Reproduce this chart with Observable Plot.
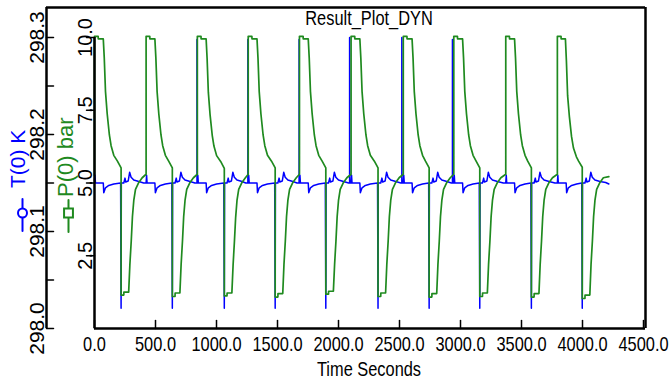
<!DOCTYPE html>
<html><head><meta charset="utf-8">
<script src="https://cdn.jsdelivr.net/npm/d3@7"></script>
<script src="https://cdn.jsdelivr.net/npm/@observablehq/plot@0.6"></script>
<style>body{margin:0;background:#fff} svg{display:block}</style>
</head><body><div id="chart"></div>
<script>
const title = "Result_Plot_DYN";
const xLabel = "Time Seconds";
const pLabel = "P(0) bar";
const tLabel = "T(0) K";
const xTicks = [0, 500, 1000, 1500, 2000, 2500, 3000, 3500, 4000, 4500];
const pTicks = [2.5, 5.0, 7.5, 10.0];
const tTicks = [298.0, 298.05, 298.1, 298.15, 298.2, 298.25, 298.3];
const tLabelTicks = [298.0, 298.1, 298.2, 298.3];

const pressureTime = [
  0, 0, 30, 31, 72, 80, 90, 104, 122, 136, 158, 188, 218, 218, 240, 241, 280, 290, 301, 311, 322, 336, 363, 391, 423,
  423, 453, 454, 495, 503, 513, 527, 545, 559, 581, 608, 638, 638, 660, 661, 700, 710, 721, 731, 742, 756, 783, 811, 843,
  843, 873, 874, 915, 923, 933, 947, 965, 979, 1001, 1034, 1064, 1064, 1086, 1087, 1126, 1136, 1147, 1157, 1168, 1182, 1209, 1237, 1260,
  1260, 1290, 1291, 1332, 1340, 1350, 1364, 1382, 1396, 1418, 1451, 1481, 1481, 1503, 1504, 1543, 1553, 1564, 1574, 1585, 1599, 1626, 1654, 1680,
  1680, 1710, 1711, 1752, 1760, 1770, 1784, 1802, 1816, 1838, 1866, 1896, 1896, 1918, 1919, 1958, 1968, 1979, 1989, 2000, 2014, 2041, 2069, 2103,
  2103, 2133, 2134, 2175, 2183, 2193, 2207, 2225, 2239, 2261, 2294, 2324, 2324, 2346, 2347, 2386, 2396, 2407, 2417, 2428, 2442, 2469, 2497, 2531,
  2531, 2561, 2562, 2603, 2611, 2621, 2635, 2653, 2667, 2689, 2713, 2743, 2743, 2765, 2766, 2805, 2815, 2826, 2836, 2847, 2861, 2888, 2916, 2945,
  2945, 2975, 2976, 3017, 3025, 3035, 3049, 3067, 3081, 3103, 3128, 3158, 3158, 3180, 3181, 3220, 3230, 3241, 3251, 3262, 3276, 3303, 3331, 3371,
  3371, 3401, 3402, 3443, 3451, 3461, 3475, 3493, 3507, 3529, 3551, 3581, 3581, 3603, 3604, 3643, 3653, 3664, 3674, 3685, 3699, 3726, 3754, 3794,
  3794, 3824, 3825, 3860, 3868, 3878, 3892, 3910, 3926, 3950, 3968, 3998, 3998, 4020, 4021, 4060, 4070, 4081, 4091, 4102, 4116, 4143, 4171, 4216
];
const pressureBar = [
  5.26, 10.04, 10.04, 9.95, 9.95, 9.30, 8.15, 7.38, 6.65, 6.28, 5.95, 5.75, 5.52, 1.15, 1.15, 1.25, 1.25, 2.20, 3.00, 3.85, 4.40, 4.78, 5.02, 5.18, 5.30,
  10.04, 10.04, 9.95, 9.95, 9.30, 8.15, 7.38, 6.65, 6.28, 5.95, 5.75, 5.52, 1.10, 1.10, 1.22, 1.22, 2.20, 3.00, 3.85, 4.40, 4.78, 5.02, 5.18, 5.30,
  10.04, 10.04, 9.95, 9.95, 9.28, 8.12, 7.36, 6.64, 6.27, 5.94, 5.74, 5.50, 1.12, 1.12, 1.22, 1.22, 2.18, 3.00, 3.82, 4.40, 4.78, 5.02, 5.18, 5.30,
  10.04, 10.04, 9.95, 9.95, 9.30, 8.15, 7.38, 6.65, 6.28, 5.95, 5.75, 5.52, 1.08, 1.08, 1.20, 1.20, 2.20, 3.00, 3.85, 4.40, 4.78, 5.02, 5.18, 5.30,
  10.04, 10.04, 9.95, 9.95, 9.30, 8.15, 7.38, 6.65, 6.28, 5.95, 5.75, 5.52, 1.18, 1.18, 1.28, 1.28, 2.20, 3.00, 3.85, 4.40, 4.78, 5.02, 5.18, 5.30,
  10.04, 10.04, 9.95, 9.95, 9.30, 8.15, 7.38, 6.65, 6.28, 5.95, 5.75, 5.52, 1.10, 1.10, 1.22, 1.22, 2.20, 3.00, 3.85, 4.40, 4.78, 5.02, 5.18, 5.30,
  10.04, 10.04, 9.95, 9.95, 9.30, 8.15, 7.38, 6.65, 6.28, 5.95, 5.75, 5.52, 1.08, 1.08, 1.20, 1.20, 2.20, 3.00, 3.85, 4.40, 4.78, 5.02, 5.18, 5.30,
  10.04, 10.04, 9.95, 9.95, 9.30, 8.15, 7.38, 6.65, 6.28, 5.95, 5.75, 5.52, 1.10, 1.10, 1.22, 1.22, 2.20, 3.00, 3.85, 4.40, 4.78, 5.02, 5.18, 5.30,
  10.04, 10.04, 9.95, 9.95, 9.30, 8.15, 7.38, 6.65, 6.28, 5.95, 5.75, 5.52, 1.08, 1.08, 1.20, 1.20, 2.20, 3.00, 3.85, 4.40, 4.78, 5.02, 5.18, 5.30,
  10.04, 10.04, 9.95, 9.95, 9.20, 8.00, 7.30, 6.60, 6.20, 5.90, 5.75, 5.54, 1.03, 1.03, 1.15, 1.15, 2.20, 3.00, 3.85, 4.40, 4.78, 5.02, 5.18, 5.22
];

const temperatureTime = [
  0, 4, 8, 72, 76, 90, 117, 158, 214, 218, 220, 240, 250, 256, 276, 288, 300, 322, 363, 403,
  423, 427, 431, 495, 499, 513, 540, 581, 634, 638, 640, 660, 670, 676, 696, 708, 720, 742, 783, 823,
  840, 840, 841, 843, 847, 851, 915, 919, 933, 960, 1001, 1060, 1064, 1066, 1086, 1096, 1102, 1122, 1134, 1146, 1168, 1209, 1240,
  1257, 1257, 1258, 1260, 1264, 1268, 1332, 1336, 1350, 1377, 1418, 1477, 1481, 1483, 1503, 1513, 1519, 1539, 1551, 1563, 1585, 1626, 1660,
  1677, 1677, 1678, 1680, 1684, 1688, 1752, 1756, 1770, 1797, 1838, 1892, 1896, 1898, 1918, 1928, 1934, 1954, 1966, 1978, 2000, 2041, 2083,
  2091, 2091, 2092, 2103, 2107, 2111, 2175, 2179, 2193, 2220, 2261, 2320, 2324, 2326, 2346, 2356, 2362, 2382, 2394, 2406, 2428, 2469, 2511,
  2519, 2519, 2520, 2531, 2535, 2539, 2603, 2607, 2621, 2648, 2689, 2739, 2743, 2745, 2765, 2775, 2781, 2801, 2813, 2825, 2847, 2888, 2925,
  2934, 2934, 2935, 2945, 2949, 2953, 3017, 3021, 3035, 3062, 3103, 3154, 3158, 3160, 3180, 3190, 3196, 3216, 3228, 3240, 3262, 3303, 3351,
  3371, 3375, 3379, 3443, 3447, 3461, 3488, 3529, 3577, 3581, 3583, 3603, 3613, 3619, 3639, 3651, 3663, 3685, 3726, 3774,
  3794, 3798, 3802, 3866, 3870, 3884, 3911, 3952, 3994, 3998, 4000, 4020, 4030, 4036, 4056, 4068, 4080, 4102, 4143, 4190, 4216
];
const temperatureK = [
  298.1526, 298.158, 298.150, 298.150, 298.140, 298.145, 298.1475, 298.149, 298.150, 298.021, 298.150, 298.150, 298.155, 298.151, 298.152, 298.161, 298.156, 298.153, 298.1515, 298.150,
  298.150, 298.158, 298.150, 298.150, 298.140, 298.145, 298.1475, 298.149, 298.150, 298.021, 298.150, 298.150, 298.155, 298.151, 298.152, 298.161, 298.156, 298.153, 298.1515, 298.150,
  298.150, 298.298, 298.150, 298.150, 298.158, 298.150, 298.150, 298.140, 298.145, 298.1475, 298.149, 298.150, 298.021, 298.150, 298.150, 298.155, 298.151, 298.152, 298.161, 298.156, 298.153, 298.1515, 298.150,
  298.150, 298.298, 298.150, 298.150, 298.158, 298.150, 298.150, 298.140, 298.145, 298.1475, 298.149, 298.150, 298.021, 298.150, 298.150, 298.155, 298.151, 298.152, 298.161, 298.156, 298.153, 298.1515, 298.150,
  298.150, 298.298, 298.150, 298.150, 298.158, 298.150, 298.150, 298.140, 298.145, 298.1475, 298.149, 298.150, 298.021, 298.150, 298.150, 298.155, 298.151, 298.152, 298.161, 298.156, 298.153, 298.1515, 298.150,
  298.150, 298.300, 298.150, 298.150, 298.158, 298.150, 298.150, 298.140, 298.145, 298.1475, 298.149, 298.150, 298.021, 298.150, 298.150, 298.155, 298.151, 298.152, 298.161, 298.156, 298.153, 298.1515, 298.150,
  298.150, 298.300, 298.150, 298.150, 298.158, 298.150, 298.150, 298.140, 298.145, 298.1475, 298.149, 298.150, 298.021, 298.150, 298.150, 298.155, 298.151, 298.152, 298.161, 298.156, 298.153, 298.1515, 298.150,
  298.150, 298.298, 298.150, 298.150, 298.158, 298.150, 298.150, 298.140, 298.145, 298.1475, 298.149, 298.150, 298.021, 298.150, 298.150, 298.155, 298.151, 298.152, 298.161, 298.156, 298.153, 298.1515, 298.150,
  298.150, 298.158, 298.150, 298.150, 298.140, 298.145, 298.1475, 298.149, 298.150, 298.021, 298.150, 298.150, 298.155, 298.151, 298.152, 298.161, 298.156, 298.153, 298.1515, 298.150,
  298.150, 298.158, 298.150, 298.150, 298.140, 298.145, 298.1475, 298.149, 298.150, 298.021, 298.150, 298.150, 298.155, 298.151, 298.152, 298.161, 298.156, 298.153, 298.1515, 298.1505, 298.149
];

// Both y axes share one vertical scale: P (bar) = (T - 298.0) / 0.03
const T_BASE = 298.0, K_PER_BAR = 0.03;
const toP = k => (k - T_BASE) / K_PER_BAR;
const yDomain = [0, 11.03];
const xDomain = [0, 4500];

const FONT = '"Liberation Sans",Arial,sans-serif';
const GREEN = "#1f8a1f", BLUE = "#0000ff";
const T_AXIS_DX = -48;
// plain straight line for tick marks and legend keys (no arrow head)
const stroke = {draw(context, l) { context.moveTo(0, 0); context.lineTo(0, -l); }};

const pData = pressureTime.map((t, i) => ({t, v: pressureBar[i]}));
const tData = temperatureTime.map((t, i) => ({t, v: toP(temperatureK[i])}));
const fmt1 = d3.format(".1f");

const chart = Plot.plot({
  width: 670, height: 381,
  marginLeft: 94, marginRight: 27, marginTop: 7, marginBottom: 53,
  style: {fontFamily: FONT, background: "#fff", color: "#000", overflow: "visible"},
  x: {domain: xDomain, axis: null},
  y: {domain: yDomain, axis: null},
  marks: [
    Plot.line(tData, {x: "t", y: "v", stroke: BLUE, strokeWidth: 1.5}),
    Plot.line(pData, {x: "t", y: "v", stroke: GREEN, strokeWidth: 1.7}),
    // frame lines
    Plot.ruleY([yDomain[1]], {insetLeft: T_AXIS_DX, insetRight: -2, strokeWidth: 2.5}),
    Plot.ruleX([xDomain[1]], {strokeWidth: 2.5, dx: 2}),
    Plot.ruleY([yDomain[0]], {strokeWidth: 2.5, insetRight: -2}),
    Plot.ruleX([xDomain[0]], {dx: T_AXIS_DX, strokeWidth: 2.5}),
    Plot.ruleX([xDomain[0]], {y1: 0, y2: 10, strokeWidth: 2.5}),
    // x axis
    Plot.axisX(xTicks, {anchor: "bottom", tickSize: 0, tickPadding: 8, tickFormat: fmt1, fontSize: 20, label: null}),
    Plot.vector(xTicks, {x: d => d, frameAnchor: "bottom", length: 8, anchor: "start", shape: stroke, strokeWidth: 1.5}),
    Plot.text([xLabel], {text: d => d, frameAnchor: "bottom", dy: 47, lineAnchor: "bottom", fontSize: 20}),
    // P axis (inner): ticks point left, labels rotated
    Plot.vector(pTicks, {y: d => d, frameAnchor: "left", length: 8, rotate: -90, anchor: "start", shape: stroke, strokeWidth: 1.5}),
    Plot.text(pTicks, {y: d => d, text: fmt1, frameAnchor: "left", dx: -2.5, rotate: -90, textAnchor: "middle", lineAnchor: "bottom", fontSize: 20}),
    // T axis (outer): ticks point right, labels rotated
    Plot.vector(tTicks, {y: d => toP(d), frameAnchor: "left", dx: T_AXIS_DX, length: 7, rotate: 90, anchor: "start", shape: stroke, strokeWidth: 1.5}),
    Plot.text(tLabelTicks, {y: d => toP(d), text: d => d.toFixed(1), frameAnchor: "left", dx: T_AXIS_DX - 3, rotate: -90, textAnchor: "middle", lineAnchor: "bottom", fontSize: 21}),
    // axis titles with legend keys
    Plot.text([tLabel], {text: d => d, frameAnchor: "left", dx: -70, dy: 20, rotate: -90, textAnchor: "start", lineAnchor: "bottom", fill: BLUE, fontSize: 21}),
    Plot.vector([0], {frameAnchor: "left", dx: -72, dy: 47, length: 32, anchor: "middle", shape: stroke, stroke: BLUE, strokeWidth: 2}),
    Plot.dot([0], {frameAnchor: "left", dx: -72, dy: 45, r: 4.5, stroke: BLUE, fill: "#fff", strokeWidth: 2}),
    Plot.text([pLabel], {text: d => d, frameAnchor: "left", dx: -22, dy: 29, rotate: -90, textAnchor: "start", lineAnchor: "bottom", fill: GREEN, fontSize: 22}),
    Plot.vector([0], {frameAnchor: "left", dx: -26, dy: 48, length: 32, anchor: "middle", shape: stroke, stroke: GREEN, strokeWidth: 2}),
    Plot.dot([0], {frameAnchor: "left", dx: -26, dy: 45, r: 5, symbol: "square", stroke: GREEN, fill: "#fff", strokeWidth: 2}),
    // title
    Plot.text([title], {text: d => d, frameAnchor: "top", dy: 17, lineAnchor: "bottom", fontSize: 20})
  ]
});
document.getElementById("chart").appendChild(chart);

// The reference's horizontal texts use a narrow face: condense them to ~82% width
// around each text's own centre (all of them are middle-anchored).
const NARROW = 0.82;
d3.select(chart).selectAll("text").each(function () {
  const tr = this.getAttribute("transform") || "";
  if (tr.includes("rotate")) return;
  const b = this.getBBox();
  if (!(b.width > 0)) return;
  const cx = b.x + b.width / 2;
  this.setAttribute("transform", `${tr} translate(${cx},0) scale(${NARROW},1) translate(${-cx},0)`.trim());
});
</script>
</body></html>
